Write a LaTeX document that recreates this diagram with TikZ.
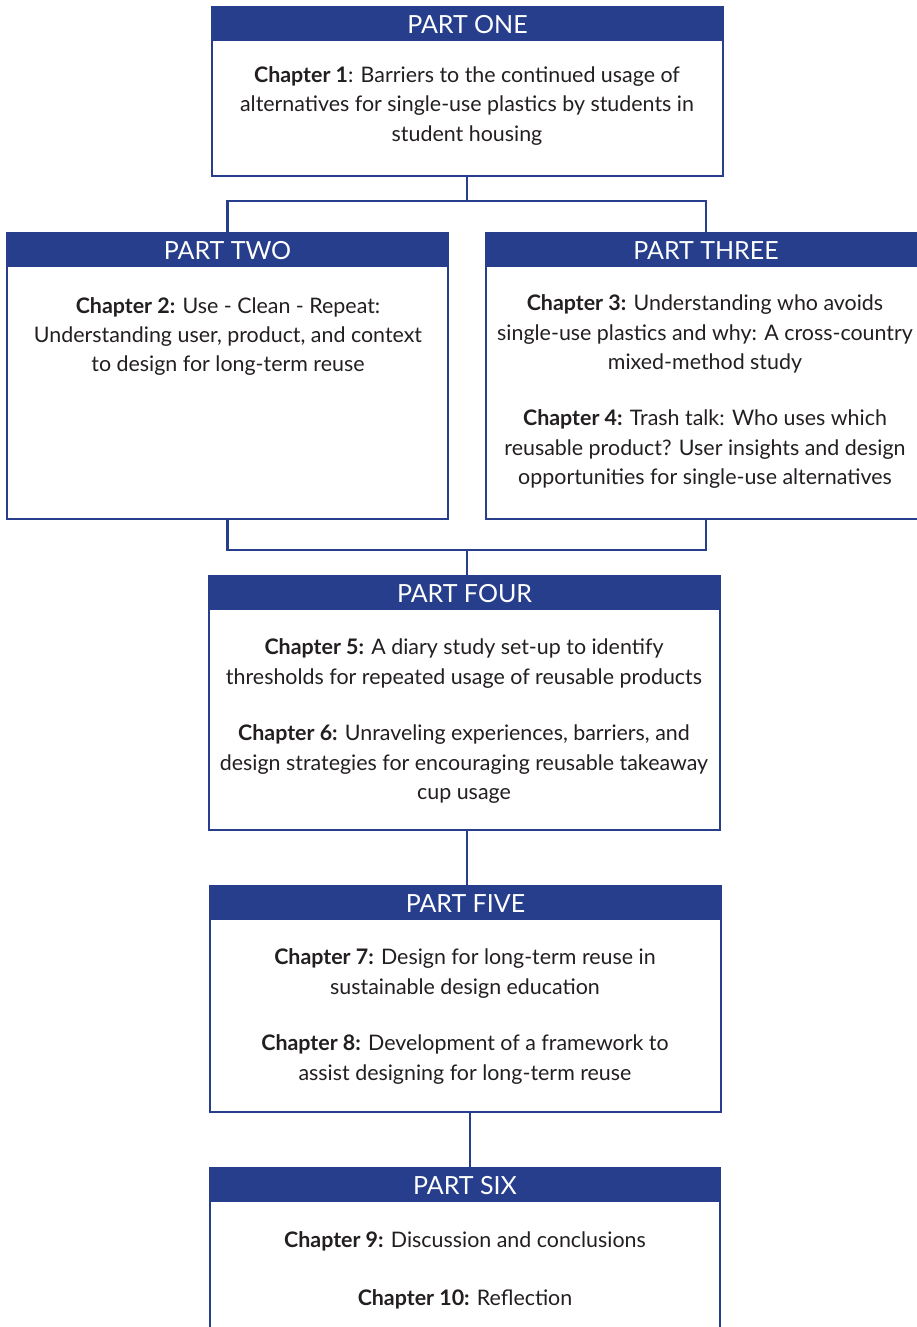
\documentclass[tikz,border=0pt]{standalone}
\usepackage{fontspec}
\setmainfont{Lato}
\definecolor{partblue}{RGB}{38,62,140}
\definecolor{bodytext}{RGB}{35,31,32}
\begin{document}
\begin{tikzpicture}[x=1pt,y=-1pt,
  partbox/.style={draw=partblue, line width=2.5pt, fill=white, inner sep=0pt},
  parthead/.style={fill=partblue, text=white, inner sep=0pt, minimum height=34pt,
    anchor=north, font=\fontsize{25}{28}\selectfont},
  chaptext/.style={text=bodytext, align=center, inner sep=0pt,
    font=\fontsize{21.4}{29.4}\selectfont},
  link/.style={draw=partblue, line width=2.5pt}]
\useasboundingbox (0,0) rectangle (917,1327);
\begin{scope}
\clip (0,0) rectangle (917,1327);

% outer boxes of the six parts
\node[partbox, minimum width=511pt, minimum height=169pt] (p1) at (467.5,91.5) {};
\node[partbox, minimum width=441pt, minimum height=286pt] (p2) at (227.5,376) {};
\node[partbox, minimum width=440pt, minimum height=286pt] (p3) at (706,376) {};
\node[partbox, minimum width=511pt, minimum height=254pt] (p4) at (464.5,703) {};
\node[partbox, minimum width=511pt, minimum height=226pt] (p5) at (465.5,999) {};
\node[partbox, minimum width=510pt, minimum height=177pt] (p6) at (465,1256.5) {};

% title bars
\node[parthead, minimum width=512.5pt] (h1) at ([yshift=-1.25pt]p1.north) {PART ONE};
\node[parthead, minimum width=442.5pt] (h2) at ([yshift=-1.25pt]p2.north) {PART TWO};
\node[parthead, minimum width=441.5pt] (h3) at ([yshift=-1.25pt]p3.north) {PART THREE};
\node[parthead, minimum width=512.5pt] (h4) at ([yshift=-1.25pt]p4.north) {PART FOUR};
\node[parthead, minimum width=512.5pt] (h5) at ([yshift=-1.25pt]p5.north) {PART FIVE};
\node[parthead, minimum width=511.5pt] (h6) at ([yshift=-1.25pt]p6.north) {PART SIX};

% chapter descriptions
\node[chaptext] (t1) at (467,106) {\textbf{Chapter 1}: Barriers to the continued usage of\\alternatives for single-use plastics by students in\\student housing};
\node[chaptext] (t2) at (228,336.5) {\textbf{Chapter 2:} Use - Clean - Repeat:\\Understanding user, product, and context\\to design for long-term reuse};
\node[chaptext] (t3) at (705,334) {\textbf{Chapter 3:} Understanding who avoids\\single-use plastics and why: A cross-country\\mixed-method study};
\node[chaptext] (t4) at (705,449) {\textbf{Chapter 4:} Trash talk: Who uses which\\reusable product? User insights and design\\opportunities for single-use alternatives};
\node[chaptext] (t5) at (464,663.5) {\textbf{Chapter 5:} A diary study set-up to identify\\thresholds for repeated usage of reusable products};
\node[chaptext] (t6) at (464,764) {\textbf{Chapter 6:} Unraveling experiences, barriers, and\\design strategies for encouraging reusable takeaway\\cup usage};
\node[chaptext] (t7) at (465,973.5) {\textbf{Chapter 7:} Design for long-term reuse in\\sustainable design education};
\node[chaptext] (t8) at (465,1059.5) {\textbf{Chapter 8:} Development of a framework to\\assist designing for long-term reuse};
\node[chaptext] (t9) at (465,1241) {\textbf{Chapter 9:} Discussion and conclusions};
\node[chaptext] (t10) at (465,1299) {\textbf{Chapter 10:} Reflection};

% connectors
\coordinate (split) at (467,201);
\coordinate (join) at (467,550);
\draw[link] (split |- p1.south) -- (split);
\draw[link] (p2.north) |- (split) -| (p3.north);
\draw[link] (p2.south) |- (join) -| (p3.south);
\draw[link] (join) -- (join |- h4.north);
\draw[link] ([xshift=2.5pt]p4.south) -- ([xshift=2.5pt]p4.south |- h5.north);
\draw[link] ([xshift=4.5pt]p5.south) -- ([xshift=4.5pt]p5.south |- h6.north);
\end{scope}
\end{tikzpicture}
\end{document}
